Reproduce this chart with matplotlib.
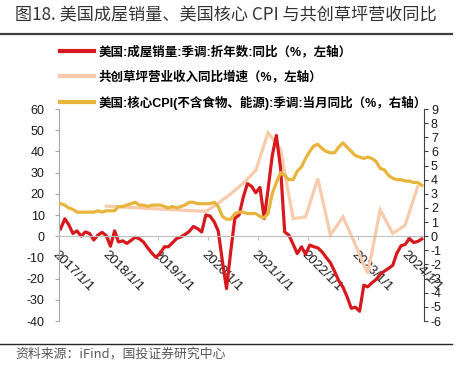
import matplotlib
matplotlib.use("Agg")
import matplotlib.pyplot as plt
from matplotlib.lines import Line2D
import pandas as pd

plt.rcParams["font.family"] = ["Liberation Sans", "Noto Sans CJK SC"]
plt.rcParams["axes.unicode_minus"] = False

# monthly series, 2017-01 .. 2024-04
home_sales_yoy = [
    3.5, 8.2, 5.5, 1.3, 2.5, 0.0, 2.0, 1.3, -1.8, 0.5, 1.8, 0.3,
    -4.7, 2.5, -2.7, -2.2, -3.4, -2.0, -0.5, -1.2, -2.8, -5.5, -8.0, -10.0,
    -8.0, -5.0, -5.0, -3.1, -1.1, -0.4, 0.8, 2.2, 4.6, 3.6, 2.0, 10.0,
    9.5, 6.7, 2.5, -12.0, -24.7, -7.0, 8.5, 10.0, 18.5, 24.8, 23.5, 20.5,
    23.0, 8.3, 22.0, 38.0, 47.5, 32.0, 2.0, 0.5, -3.8, -8.2, -5.0, -8.5,
    -4.2, -5.0, -5.5, -7.4, -10.0, -12.5, -16.5, -21.0, -24.0, -28.5, -34.0, -33.5,
    -35.4, -23.1, -23.9, -22.0, -20.5, -18.0, -16.5, -15.2, -13.7, -8.0, -4.5, -3.9,
    -1.1, -3.0, -2.5, -1.3,
]
core_cpi_yoy = [
    2.3, 2.2, 2.0, 1.9, 1.7, 1.7, 1.7, 1.7, 1.7, 1.8, 1.7, 1.8,
    1.8, 1.8, 2.1, 2.1, 2.2, 2.3, 2.4, 2.2, 2.2, 2.1, 2.2, 2.2,
    2.2, 2.1, 2.0, 2.1, 2.0, 2.1, 2.2, 2.4, 2.4, 2.3, 2.3, 2.3,
    2.3, 2.4, 2.1, 1.4, 1.2, 1.2, 1.6, 1.7, 1.7, 1.6, 1.6, 1.6,
    1.4, 1.3, 1.6, 3.0, 3.8, 4.5, 4.3, 4.0, 4.0, 4.6, 4.9, 5.5,
    6.0, 6.4, 6.5, 6.2, 6.0, 5.9, 5.9, 6.3, 6.6, 6.3, 6.0, 5.7,
    5.6, 5.5, 5.6, 5.5, 5.3, 4.8, 4.7, 4.3, 4.1, 4.0, 4.0, 3.9,
    3.9, 3.8, 3.8, 3.6,
]
# revenue: annual points, then quarterly
revenue_months = [
    "2017-12", "2018-12", "2019-12", "2020-03", "2020-06", "2020-09", "2020-12",
    "2021-03", "2021-06", "2021-09", "2021-12", "2022-03", "2022-06", "2022-09",
    "2022-12", "2023-03", "2023-06", "2023-09", "2023-12", "2024-03",
]
revenue_yoy = [
    14.2, 12.9, 11.7, 15.5, 20.0, 25.0, 31.0, 48.8, 41.0, 8.3, 9.1, 27.2, 0.5,
    9.1, -4.0, -17.6, 12.3, 1.3, 5.2, 23.3,
]
tick_years = [2017, 2018, 2019, 2020, 2021, 2022, 2023, 2024]

labels = [
    "美国:成屋销量:季调:折年数:同比（%，左轴）",
    "共创草坪营业收入同比增速（%，左轴）",
    "美国:核心CPI(不含食物、能源):季调:当月同比（%，右轴）",
]
RED = "#D7191E"
PINK = "#F8CBAD"
GOLD = "#E9B43C"

mid = pd.Timedelta(days=14)
months = pd.date_range("2017-01-01", periods=len(home_sales_yoy), freq="MS") + mid
rev_dates = pd.to_datetime(revenue_months) + mid
ticks = [pd.Timestamp(f"{y}-01-01") for y in tick_years]

fig = plt.figure(figsize=(4.58, 3.75), dpi=100)
ax = fig.add_axes([58.7 / 458, 1 - 321 / 375, (424 - 58.7) / 458, (321 - 109) / 375])
ax2 = ax.twinx()

ax.plot(rev_dates, revenue_yoy, color=PINK, lw=2.3, solid_joinstyle="miter")
ax.plot(months, home_sales_yoy, color=RED, lw=2.3)
ax2.plot(months, core_cpi_yoy, color=GOLD, lw=2.3)

ax.set_xlim(pd.Timestamp("2017-01-01"), pd.Timestamp("2024-05-01"))
ax.set_ylim(-40, 60)
ax.set_yticks(range(-40, 61, 10))
ax2.set_ylim(-6, 9)
ax2.set_yticks(range(-6, 10, 1))

ax.set_xticks(ticks)
ax.set_xticklabels([f"{y}/1/1" for y in tick_years])

for s in ["top"]:
    ax.spines[s].set_visible(False)
    ax2.spines[s].set_visible(False)
ax2.spines["bottom"].set_visible(False)
ax2.spines["left"].set_visible(False)
ax.spines["right"].set_visible(False)
ax.spines["bottom"].set_position(("data", 0))
ax.spines["bottom"].set_color("#bfbfbf")
ax.spines["left"].set_color("#a6a6a6")
ax2.spines["right"].set_color("#404040")

ax.tick_params(axis="y", length=3, color="#a6a6a6", labelsize=9, pad=7, labelcolor="#1a1a1a")
ax2.tick_params(axis="y", length=3, color="#404040", labelsize=9, pad=2, labelcolor="#1a1a1a")
ax.tick_params(axis="x", length=3, color="#bfbfbf", labelsize=9.5, pad=6, labelcolor="#1a1a1a")
plt.setp(ax.get_xticklabels(), rotation=-45, ha="left", va="top", rotation_mode="anchor")

handles = [Line2D([], [], color=c, lw=3) for c in (RED, PINK, GOLD)]
fig.legend(handles, labels, loc="upper left", bbox_to_anchor=(60 / 458, 1 - 46 / 375),
           frameon=False, handlelength=2.7, handletextpad=0.4,
           labelspacing=0.95, borderpad=0, borderaxespad=0,
           prop={"family": ["Liberation Sans", "Noto Sans CJK SC"], "weight": "bold", "size": 9.0})

fig.text(15 / 458, 1 - 15 / 375, "图18. 美国成屋销量、美国核心 CPI 与共创草坪营收同比",
         fontsize=12.3, va="center", ha="left", color="#333333",
         family=["Noto Sans CJK SC", "DejaVu Sans"])
fig.add_artist(Line2D([0, 452 / 458], [1 - 34 / 375, 1 - 34 / 375], color="#404040", lw=1.6))
fig.add_artist(Line2D([0, 452 / 458], [1 - 344 / 375, 1 - 344 / 375], color="#262626", lw=1.0))
fig.text(15 / 458, 1 - 354 / 375, "资料来源：iFind，国投证券研究中心", fontsize=9.3,
         va="center", ha="left", color="#595959", family=["Noto Sans CJK SC", "DejaVu Sans"])

fig.savefig("out.png", dpi=100)
